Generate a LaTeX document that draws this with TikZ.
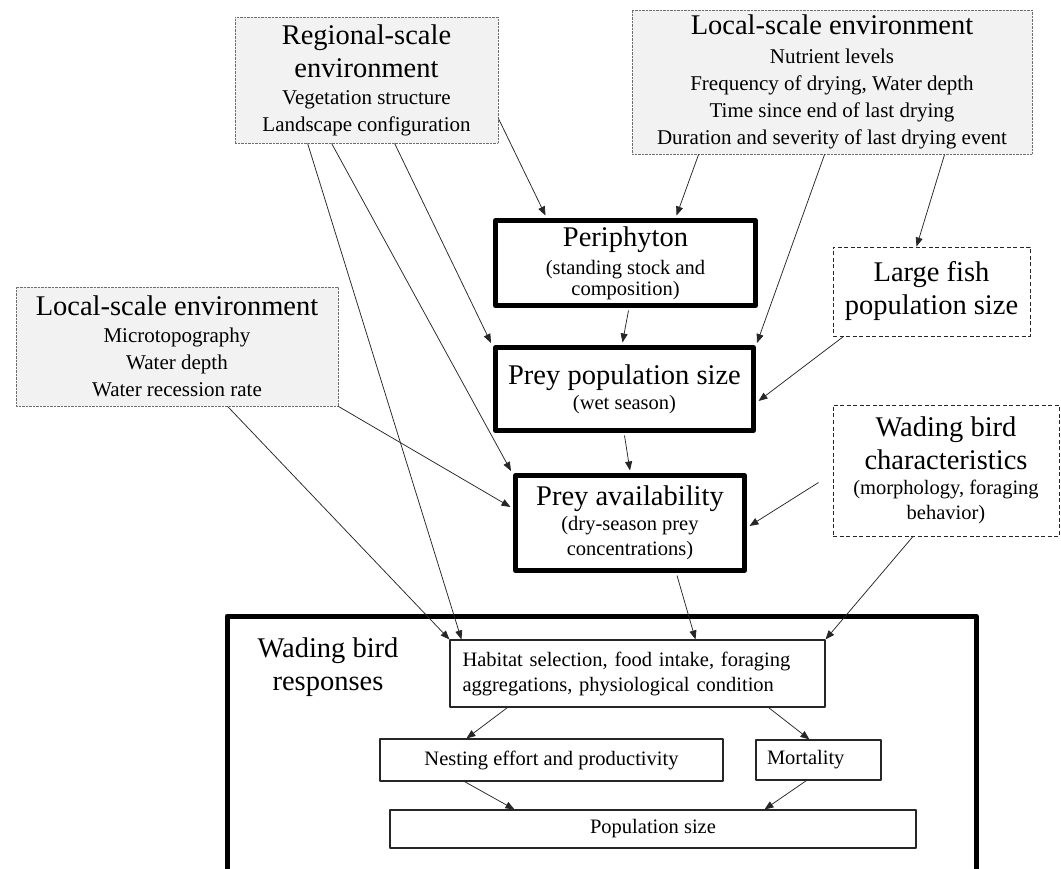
\documentclass[tikz,border=0pt]{standalone}
\usepackage{fontspec}
\setmainfont{Liberation Serif}
\usepackage{xcolor}
\usepackage{tikz}
\usetikzlibrary{calc,arrows.meta}
\definecolor{envfill}{HTML}{F2F2F2}
\definecolor{envline}{HTML}{6E6E6E}
\definecolor{ink}{HTML}{262626}
\newcommand{\HeadFont}{\fontsize{28.5}{33}\selectfont}
\newcommand{\ItemFont}{\fontsize{21}{27}\selectfont}
\newcommand{\NoteFont}{\fontsize{20.5}{25}\selectfont}
\tikzset{
  EnvBox/.style={
    draw=envline, fill=envfill, line width=0.8pt,
    dash pattern=on 0.7pt off 0.7pt,
    align=center, inner sep=0pt, font=\ItemFont
  },
  KeyBox/.style={
    draw=black, line width=5pt, fill=white,
    align=center, inner sep=0pt, font=\NoteFont
  },
  OpenBox/.style={
    draw=ink, line width=0.9pt, dash pattern=on 4pt off 2.5pt,
    align=center, inner sep=0pt, font=\NoteFont
  },
  RespBox/.style={
    draw=ink, line width=1.1pt, fill=white,
    align=center, inner sep=0pt, font=\NoteFont
  },
  Link/.style={
    draw=ink, line width=0.75pt,
    -{Triangle[length=9pt,width=7pt]}
  }
}

\begin{document}
\begin{tikzpicture}[x=1pt, y=-1pt, line join=round]
  \useasboundingbox (0,0) rectangle (1061,869);

  % Frame round the bird responses (bottom edge runs off the page)
  \node[draw=black, line width=5pt, minimum width=749pt, minimum height=255pt]
    (frame) at (601.5,743.5) {};
  \node[font=\HeadFont, align=center] (resplabel) at (328,667) {Wading bird\\responses};

  % Environment boxes
  \node[EnvBox, minimum width=263pt, minimum height=126pt] (reg) at (366.5,80)
    {{\HeadFont Regional-scale}\\[6pt]{\HeadFont environment}\\
     Vegetation structure\\ Landscape configuration};
  \node[EnvBox, minimum width=400pt, minimum height=144pt] (loctop) at (832,82)
    {{\HeadFont Local-scale environment}\\[2pt] Nutrient levels\\
     Frequency of drying, Water depth\\ Time since end of last drying\\
     Duration and severity of last drying event};
  \node[EnvBox, minimum width=322pt, minimum height=119pt] (locleft) at (177,346.5)
    {{\HeadFont Local-scale environment}\\ Microtopography\\ Water depth\\
     Water recession rate};

  % Key boxes (thick)
  \node[KeyBox, minimum width=260pt, minimum height=85pt] (peri) at (625.5,263)
    {{\HeadFont Periphyton}\\[3pt] (standing stock and\\[-4pt] composition)};
  \node[KeyBox, minimum width=258pt, minimum height=83pt] (preypop) at (624.5,389)
    {{\HeadFont Prey population size}\\ (wet season)};
  \node[KeyBox, minimum width=229pt, minimum height=95pt] (avail) at (630,523)
    {{\HeadFont Prey availability}\\ (dry-season prey\\ concentrations)};

  % Dashed boxes
  \node[OpenBox, minimum width=197pt, minimum height=89pt, font=\HeadFont] (fish)
    at (931.5,291.5) {Large fish\\ population size};
  \node[OpenBox, minimum width=226pt, minimum height=131pt] (wchar) at (946,470.5)
    {{\HeadFont Wading bird}\\[6pt]{\HeadFont characteristics}\\
     (morphology, foraging\\ behavior)};

  % Responses
  \node[RespBox, text width=350pt, inner xsep=12.5pt, minimum height=67pt, align=left]
    (habitat) at (637.5,673.5)
    {Habitat selection, food intake, foraging\\ aggregations, physiological condition};
  \node[RespBox, minimum width=343pt, minimum height=42pt] (nest) at (551.5,760)
    {Nesting effort and productivity};
  \node[RespBox, text width=103pt, inner xsep=11pt, minimum height=40pt, align=left]
    (mort) at (818.5,760) {Mortality};
  \node[RespBox, minimum width=526pt, minimum height=38pt] (pop) at (653,829)
    {Population size};

  % Links from the regional box
  \draw[Link] ($(reg.south west)+(73,0)$) -- ($(habitat.north west)+(12,0)$);
  \draw[Link] ($(reg.south west)+(97,0)$) -- ($(avail.north west)+(-2,-2)$);
  \draw[Link] ($(reg.south west)+(160,0)$) -- ($(preypop.north west)+(-2,-2)$);
  \draw[Link] ($(reg.south east)+(0,-25)$) -- ($(peri.north west)+(52.5,-2.5)$);

  % Links from the local boxes
  \draw[Link] ($(loctop.south west)+(67,0)$) -- ($(peri.north west)+(183.5,-2.5)$);
  \draw[Link] ($(loctop.south west)+(193,0)$) -- ($(preypop.north east)+(1,-2)$);
  \draw[Link] ($(loctop.south west)+(313,0)$) -- ($(fish.north west)+(84,0)$);
  \draw[Link] ($(locleft.south west)+(212,0)$) -- (habitat.north west);
  \draw[Link] (locleft.south east) -- ($(avail.west)+(-2.5,-16)$);

  % Down the middle
  \draw[Link] ($(peri.south)+(3,2.5)$) -- ($(preypop.north)+(-2,-2.5)$);
  \draw[Link] ($(fish.south west)+(11,0)$) -- ($(preypop.east)+(2.5,12)$);
  \draw[Link] ($(preypop.south)+(0,2.5)$) -- ($(avail.north)+(0,-2.5)$);
  \draw[Link] ($(wchar.west)+(-14,12)$) -- ($(avail.east)+(2.5,3)$);
  \draw[Link] ($(avail.south)+(47,2.5)$) -- ($(habitat.north)+(58,0)$);
  \draw[Link] ($(wchar.south)+(-33,0)$) -- (habitat.north east);

  % Inside the responses frame
  \draw[Link] ($(habitat.south west)+(58,0)$) -- ($(nest.north west)+(87,0)$);
  \draw[Link] ($(habitat.south east)+(-57,0)$) -- ($(mort.north west)+(54,0)$);
  \draw[Link] ($(nest.south west)+(85,0)$) -- ($(pop.north west)+(125,0)$);
  \draw[Link] ($(mort.south west)+(51,0)$) -- ($(pop.north west)+(375,0)$);
\end{tikzpicture}
\end{document}
